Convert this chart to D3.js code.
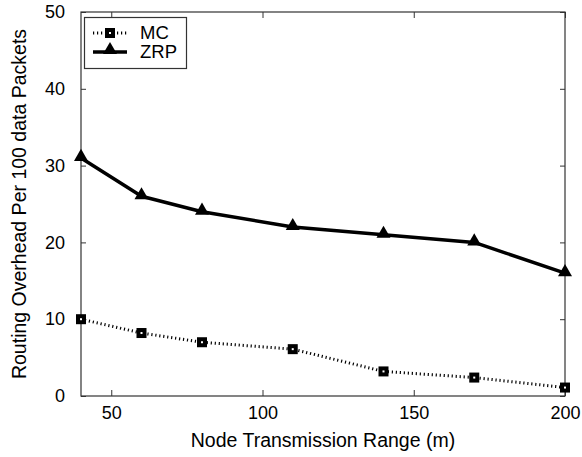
<!DOCTYPE html>
<html>
<head>
<meta charset="utf-8">
<script src="https://cdn.jsdelivr.net/npm/d3@7"></script>
<style>
  body { margin: 0; background: #fff; }
  text { font-family: "Liberation Sans", Arial, sans-serif; fill: #000; }
</style>
</head>
<body>
<div id="chart"></div>
<script>
var ranges = [40, 60, 80, 110, 140, 170, 200];
var mcValues = [10, 8.2, 7, 6.1, 3.2, 2.4, 1.1];
var zrpValues = [31, 26, 24, 22, 21, 20, 16];
var xTicks = [50, 100, 150, 200];
var yTicks = [0, 10, 20, 30, 40, 50];

var margins = { left: 81, right: 17, top: 12, bottom: 61 };
var width = 582 - margins.left - margins.right;
var height = 457 - margins.top - margins.bottom;

var svg = d3.select('#chart').append('svg')
  .attr('width', 582)
  .attr('height', 457);
var g = svg.append('g')
  .attr('transform', 'translate(' + margins.left + ',' + margins.top + ')');

var xScale = d3.scaleLinear().domain([40, 200]).range([0, width]);
var yScale = d3.scaleLinear().domain([0, 50]).range([height, 0]);

// axes, ticks pointing inward
var axisColor = '#333';
function styleAxis(sel) {
  sel.select('.domain').remove();
  sel.selectAll('line').attr('stroke', axisColor);
  sel.selectAll('text').style('font-size', '18px').attr('fill', '#000');
}
g.append('g')
  .attr('transform', 'translate(0,' + height + ')')
  .call(d3.axisBottom(xScale).tickValues(xTicks).tickSize(-6).tickPadding(10).tickFormat(d3.format('d')))
  .call(styleAxis);
g.append('g')
  .call(d3.axisTop(xScale).tickValues(xTicks).tickSize(-6).tickFormat(''))
  .call(styleAxis);
g.append('g')
  .call(d3.axisLeft(yScale).tickValues(yTicks).tickSize(-5).tickPadding(16).tickFormat(d3.format('d')))
  .call(styleAxis);
g.append('g')
  .attr('transform', 'translate(' + width + ',0)')
  .call(d3.axisRight(yScale).tickValues(yTicks).tickSize(-5).tickFormat(''))
  .call(styleAxis);

g.append('rect')
  .attr('width', width)
  .attr('height', height)
  .attr('fill', 'none')
  .attr('stroke', axisColor)
  .attr('stroke-width', 1.2);

// axis labels
svg.append('text')
  .attr('x', margins.left + width / 2)
  .attr('y', 447)
  .attr('text-anchor', 'middle')
  .style('font-size', '19.5px')
  .text('Node Transmission Range (m)');
svg.append('text')
  .attr('transform', 'translate(26,' + (margins.top + height / 2) + ') rotate(-90)')
  .attr('text-anchor', 'middle')
  .style('font-size', '19.5px')
  .text('Routing Overhead Per 100 data Packets');

var line = d3.line()
  .x(function(d, i) { return xScale(ranges[i]); })
  .y(function(d) { return yScale(d); });

// MC series
g.append('path')
  .datum(mcValues)
  .attr('fill', 'none')
  .attr('stroke', '#000')
  .attr('stroke-width', 3)
  .attr('stroke-dasharray', '1.2,2.8')
  .attr('d', line);

g.selectAll('.mc-mark')
  .data(mcValues)
  .enter().append('rect')
  .attr('class', 'mc-mark')
  .attr('x', function(d, i) { return xScale(ranges[i]) - 5; })
  .attr('y', function(d) { return yScale(d) - 5; })
  .attr('width', 10)
  .attr('height', 10)
  .attr('fill', '#000');
g.selectAll('.mc-dot')
  .data(mcValues)
  .enter().append('rect')
  .attr('class', 'mc-dot')
  .attr('x', function(d, i) { return xScale(ranges[i]) - 1; })
  .attr('y', function(d) { return yScale(d) - 1; })
  .attr('width', 2)
  .attr('height', 2)
  .attr('fill', '#fff');

// ZRP series
g.append('path')
  .datum(zrpValues)
  .attr('fill', 'none')
  .attr('stroke', '#000')
  .attr('stroke-width', 3.5)
  .attr('stroke-linejoin', 'round')
  .attr('d', line);

var tri = d3.symbol().type(d3.symbolTriangle).size(85);
g.selectAll('.zrp-mark')
  .data(zrpValues)
  .enter().append('path')
  .attr('class', 'zrp-mark')
  .attr('transform', function(d, i) { return 'translate(' + xScale(ranges[i]) + ',' + (yScale(d) - 1) + ')'; })
  .attr('d', tri)
  .attr('fill', '#000');

// legend
var legend = svg.append('g');
legend.append('rect')
  .attr('x', 84.5).attr('y', 17.5)
  .attr('width', 102).attr('height', 51)
  .attr('fill', '#fff')
  .attr('stroke', axisColor)
  .attr('stroke-width', 1.2);
legend.append('line')
  .attr('x1', 93).attr('x2', 127).attr('y1', 33).attr('y2', 33)
  .attr('stroke', '#000').attr('stroke-width', 3).attr('stroke-dasharray', '1.2,2.8');
legend.append('rect')
  .attr('x', 105).attr('y', 28).attr('width', 10).attr('height', 10).attr('fill', '#000');
legend.append('rect')
  .attr('x', 109).attr('y', 32).attr('width', 2).attr('height', 2).attr('fill', '#fff');
legend.append('line')
  .attr('x1', 93).attr('x2', 127).attr('y1', 52).attr('y2', 52)
  .attr('stroke', '#000').attr('stroke-width', 3.5);
legend.append('path')
  .attr('transform', 'translate(110,50)')
  .attr('d', tri)
  .attr('fill', '#000');
legend.append('text').attr('x', 140).attr('y', 39).style('font-size', '18.5px').text('MC');
legend.append('text').attr('x', 140).attr('y', 58).style('font-size', '18.5px').text('ZRP');
</script>
</body>
</html>
